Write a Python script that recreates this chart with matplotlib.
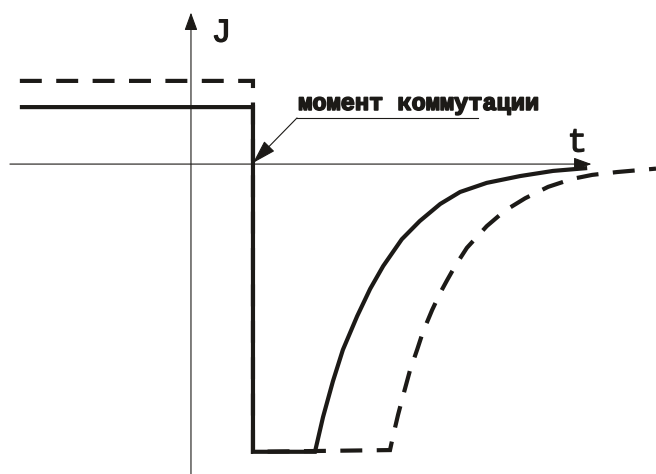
import matplotlib.pyplot as plt
import matplotlib as mpl
import matplotlib.patheffects as pe

mpl.rcParams['lines.scale_dashes'] = False

INK = '#1c1a17'

# current before and after switching (solid), time in relative units
t_solid = [-2.76, 1.0, 1.0, 2.00, 2.13, 2.29, 2.45, 2.68, 2.89, 3.10, 3.40,
           3.69, 4.02, 4.34, 4.77, 5.31, 5.84, 6.39]
j_solid = [1.0, 1.0, -5.05, -5.05, -4.44, -3.81, -3.26, -2.67, -2.19, -1.79,
           -1.32, -1.00, -0.70, -0.49, -0.33, -0.21, -0.12, -0.07]

# second case (dashed)
t_dash = [-2.76, 1.0, 1.0, 3.21, 3.26, 3.34, 3.42, 3.53, 3.65, 3.74, 3.89,
          4.02, 4.13, 4.26, 4.45, 4.77, 5.06, 5.39, 5.76, 6.15, 6.47, 6.87,
          7.50]
j_dash = [1.46, 1.46, -5.05, -5.02, -4.77, -4.40, -4.07, -3.63, -3.25, -2.95,
          -2.56, -2.26, -2.04, -1.79, -1.47, -1.09, -0.82, -0.60, -0.40, -0.26,
          -0.19, -0.14, -0.08]

t_switch = 1.0
j_switch = 0.02

fig = plt.figure(figsize=(6.56, 4.74), dpi=100)
ax = fig.add_axes([0, 0, 1, 1])
ax.set_xlim(-3.08, 7.50)
ax.set_ylim(-5.44, 2.88)
ax.axis('off')

# coordinate axes with arrow heads
axis_arrow = dict(arrowstyle='-|>,head_length=1.1,head_width=0.4',
                  mutation_scale=10, lw=0.8, color=INK,
                  shrinkA=0, shrinkB=0)
ax.annotate('', xy=(0, 2.66), xytext=(0, -5.44), arrowprops=axis_arrow)
ax.annotate('', xy=(6.46, 0), xytext=(-2.92, 0), arrowprops=axis_arrow)

ax.plot(t_dash, j_dash, color=INK, lw=3.0, dashes=(15.8, 10.4),
        dash_capstyle='butt', solid_joinstyle='miter', dash_joinstyle='miter')
ax.plot(t_solid, j_solid, color=INK, lw=3.0, solid_joinstyle='miter',
        solid_capstyle='butt')

heavy = [pe.withStroke(linewidth=0.9, foreground=INK)]
ax.text(0.33, 2.15, 'J', fontsize=24, family='Liberation Mono',
        color=INK, ha='left', va='baseline', path_effects=heavy)
ax.text(6.07, 0.22, 't', fontsize=24, family='Liberation Mono',
        color=INK, ha='left', va='baseline', path_effects=heavy)

# switching moment label with leader
ax.text(1.73, 0.95, 'момент коммутации', fontsize=17,
        family='Liberation Mono', weight='bold', color=INK,
        ha='left', va='baseline',
        path_effects=[pe.withStroke(linewidth=1.2, foreground=INK)])
ax.plot([1.71, 4.63], [0.81, 0.81], color=INK, lw=0.8)
ax.annotate('', xy=(t_switch, j_switch), xytext=(1.71, 0.81),
            arrowprops=dict(arrowstyle='-|>,head_length=1.5,head_width=0.45',
                            mutation_scale=10, lw=0.8, color=INK,
                            shrinkA=0, shrinkB=0))

fig.savefig('out.png', dpi=100)
